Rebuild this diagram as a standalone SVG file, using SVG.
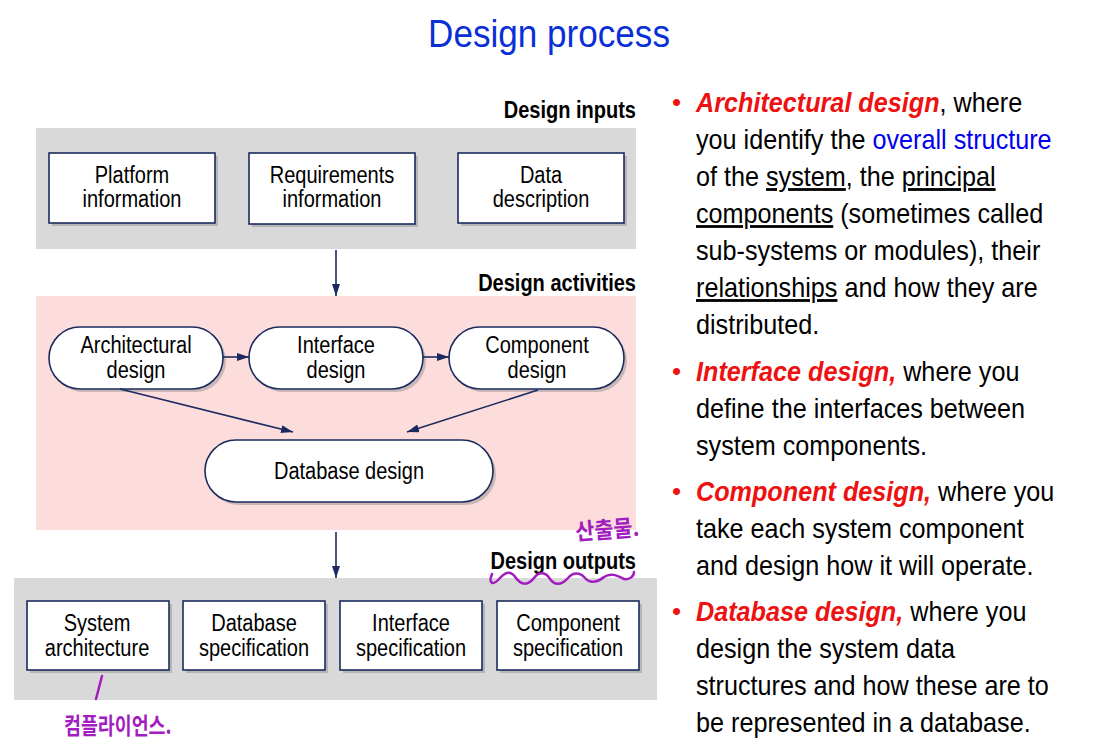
<svg xmlns="http://www.w3.org/2000/svg" width="1094" height="756" viewBox="0 0 1094 756">
<style>
.t{font-family:"Liberation Sans",Arial,sans-serif}
.node{font-family:"Liberation Sans",Arial,sans-serif;font-size:23px;fill:#000;text-anchor:middle}
.lbl{font-family:"Liberation Sans",Arial,sans-serif;font-size:23px;font-weight:bold;fill:#000;text-anchor:end}
.box{fill:#fff;stroke:#1b2b5e;stroke-width:1.6}
.shadow{fill:#8a8a8a;opacity:0.45}
.conn{stroke:#1b2b5e;stroke-width:1.6;fill:none}
.body{font-family:"Liberation Sans",Arial,sans-serif;font-size:28px;fill:#000}
.hd{fill:#ee1111;font-weight:bold;font-style:italic}
.bl{fill:#0000ee}
.u{text-decoration:underline}
.pen{fill:none;stroke:#a21cc0;stroke-width:2.5;stroke-linecap:round}
.hand{font-family:"Noto Sans CJK KR",sans-serif;fill:#a21cc0}
</style>
<defs>
<marker id="ah" viewBox="0 0 12 8" markerWidth="12" markerHeight="8" refX="12" refY="4" orient="auto" markerUnits="userSpaceOnUse">
<path d="M0,0 L12,4 L0,8 z" fill="#1b2b5e"/>
</marker>
</defs>
<rect width="1094" height="756" fill="#fff"/>

<text class="t" transform="translate(549,47) scale(0.9,1)" text-anchor="middle" font-size="39" fill="#0a2fd6">Design process</text>

<!-- panels -->
<g id="panel-inputs">
<rect x="36" y="128" width="600" height="121" fill="#d9d9d9"/>
<text class="lbl" transform="translate(636,118) scale(0.87,1)">Design inputs</text>
</g>
<g id="panel-activities">
<rect x="36" y="296" width="600" height="234" fill="#fddcdc"/>
<text class="lbl" transform="translate(636,291) scale(0.87,1)">Design activities</text>
</g>
<g id="panel-outputs">
<rect x="14" y="578" width="643" height="122" fill="#d9d9d9"/>
<text class="lbl" transform="translate(636,569) scale(0.87,1)">Design outputs</text>
</g>

<!-- input nodes -->
<g id="platform-information">
<rect class="shadow" x="52" y="156" width="166" height="70"/>
<rect class="box" x="49" y="153" width="166" height="70"/>
<text class="node" transform="translate(132,183) scale(0.87,1)"><tspan x="0">Platform</tspan><tspan x="0" dy="24.5">information</tspan></text>
</g>
<g id="requirements-information">
<rect class="shadow" x="252" y="156" width="166" height="71"/>
<rect class="box" x="249" y="153" width="166" height="71" stroke-width="3"/>
<text class="node" transform="translate(332,183) scale(0.87,1)"><tspan x="0">Requirements</tspan><tspan x="0" dy="24.5">information</tspan></text>
</g>
<g id="data-description">
<rect class="shadow" x="461" y="156" width="166" height="70"/>
<rect class="box" x="458" y="153" width="166" height="70"/>
<text class="node" transform="translate(541,183) scale(0.87,1)"><tspan x="0">Data</tspan><tspan x="0" dy="24.5">description</tspan></text>
</g>

<!-- activity nodes -->
<g id="architectural-design">
<rect class="shadow" x="52" y="330" width="174" height="62" rx="31"/>
<rect class="box" x="49" y="327" width="174" height="62" rx="31"/>
<text class="node" transform="translate(136,353) scale(0.87,1)"><tspan x="0">Architectural</tspan><tspan x="0" dy="25">design</tspan></text>
</g>
<g id="interface-design">
<rect class="shadow" x="252" y="330" width="174" height="62" rx="31"/>
<rect class="box" x="249" y="327" width="174" height="62" rx="31"/>
<text class="node" transform="translate(336,353) scale(0.87,1)"><tspan x="0">Interface</tspan><tspan x="0" dy="25">design</tspan></text>
</g>
<g id="component-design">
<rect class="shadow" x="452" y="330" width="175" height="62" rx="31"/>
<rect class="box" x="449" y="327" width="175" height="62" rx="31"/>
<text class="node" transform="translate(537,353) scale(0.87,1)"><tspan x="0">Component</tspan><tspan x="0" dy="25">design</tspan></text>
</g>
<g id="database-design">
<rect class="shadow" x="208" y="443" width="288" height="62" rx="31"/>
<rect class="box" x="205" y="440" width="288" height="62" rx="31"/>
<text class="node" transform="translate(349,479) scale(0.87,1)">Database design</text>
</g>

<!-- output nodes -->
<g id="system-architecture">
<rect class="shadow" x="30" y="604" width="142" height="69"/>
<rect class="box" x="27" y="601" width="142" height="69"/>
<text class="node" transform="translate(97,631) scale(0.87,1)"><tspan x="0">System</tspan><tspan x="0" dy="25">architecture</tspan></text>
</g>
<g id="database-specification">
<rect class="shadow" x="186" y="604" width="142" height="69"/>
<rect class="box" x="183" y="601" width="142" height="69"/>
<text class="node" transform="translate(254,631) scale(0.87,1)"><tspan x="0">Database</tspan><tspan x="0" dy="25">specification</tspan></text>
</g>
<g id="interface-specification">
<rect class="shadow" x="343" y="604" width="142" height="69"/>
<rect class="box" x="340" y="601" width="142" height="69"/>
<text class="node" transform="translate(411,631) scale(0.87,1)"><tspan x="0">Interface</tspan><tspan x="0" dy="25">specification</tspan></text>
</g>
<g id="component-specification">
<rect class="shadow" x="500" y="604" width="142" height="69"/>
<rect class="box" x="497" y="601" width="142" height="69"/>
<text class="node" transform="translate(568,631) scale(0.87,1)"><tspan x="0">Component</tspan><tspan x="0" dy="25">specification</tspan></text>
</g>

<!-- connectors -->
<g id="connectors">
<line class="conn" x1="336" y1="250" x2="336" y2="296" marker-end="url(#ah)"/>
<line class="conn" x1="223" y1="357" x2="249" y2="357" marker-end="url(#ah)"/>
<line class="conn" x1="423" y1="357" x2="449" y2="357" marker-end="url(#ah)"/>
<line class="conn" x1="120" y1="389" x2="293" y2="432" marker-end="url(#ah)"/>
<line class="conn" x1="538" y1="390" x2="407" y2="432" marker-end="url(#ah)"/>
<line class="conn" x1="336" y1="532" x2="336" y2="578" marker-end="url(#ah)"/>
</g>

<!-- handwritten annotations -->
<g id="annotations">
<path class="pen" d="M492,574 C488,584 493,586 500,578 C507,570 512,572 516,578 C521,585 528,586 534,578 C539,571 546,572 550,579 C555,586 562,585 568,578 C573,572 580,572 585,578 C590,584 598,582 604,577 C611,572 618,576 624,579 C630,580 634,576 634,572"/>
<path class="pen" d="M102,676 L96,699"/>
<text class="hand" x="576" y="540" font-size="23" font-weight="bold" transform="rotate(-4 576 540) translate(576,0) scale(0.9,1) translate(-576,0)">산출물.</text>
<text class="hand" x="64" y="734" font-size="23" font-weight="bold" transform="translate(64,0) scale(0.8,1) translate(-64,0)">컴플라이언스.</text>
</g>

<!-- bullets text -->
<g id="bullets">
<g fill="#ee1111" class="t" font-size="26">
<text x="672" y="111">•</text>
<text x="672" y="380">•</text>
<text x="672" y="500">•</text>
<text x="672" y="620">•</text>
</g>
<g class="body" transform="translate(696,0) scale(0.9,1)">
<text x="0" y="112"><tspan class="hd">Architectural design</tspan>, where</text>
<text x="0" y="149">you identify the <tspan class="bl">overall structure</tspan></text>
<text x="0" y="186">of the <tspan class="u">system</tspan>, the <tspan class="u">principal</tspan></text>
<text x="0" y="223"><tspan class="u">components</tspan> (sometimes called</text>
<text x="0" y="260">sub-systems or modules), their</text>
<text x="0" y="297"><tspan class="u">relationships</tspan> and how they are</text>
<text x="0" y="334">distributed.</text>
<text x="0" y="381"><tspan class="hd">Interface design,</tspan> where you</text>
<text x="0" y="418">define the interfaces between</text>
<text x="0" y="455">system components.</text>
<text x="0" y="501"><tspan class="hd">Component design,</tspan> where you</text>
<text x="0" y="538">take each system component</text>
<text x="0" y="575">and design how it will operate.</text>
<text x="0" y="621"><tspan class="hd">Database design,</tspan> where you</text>
<text x="0" y="658">design the system data</text>
<text x="0" y="695">structures and how these are to</text>
<text x="0" y="732">be represented in a database.</text>
</g>
</g>
</svg>
